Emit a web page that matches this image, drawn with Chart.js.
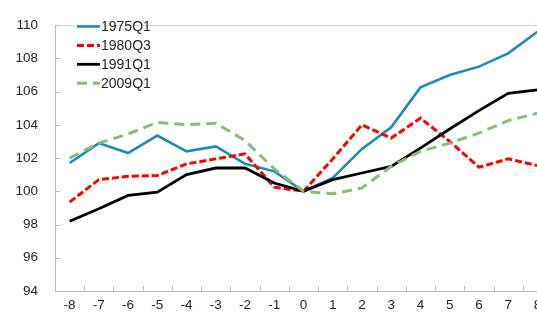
<!DOCTYPE html>
<html>
<head>
<meta charset="utf-8">
<script src="https://cdn.jsdelivr.net/npm/chart.js@4"></script>
<style>
  html, body { margin: 0; padding: 0; overflow: hidden; background: #fff; }
  #wrap { width: 537px; height: 322px; overflow: hidden; }
</style>
</head>
<body>
<div id="wrap"><canvas id="chart" width="552" height="322"></canvas></div>
<script>
// quarters relative to the cycle reference point (0 = 100)
const quarters = ['-8', '-7', '-6', '-5', '-4', '-3', '-2', '-1', '0', '1', '2', '3', '4', '5', '6', '7', '8'];

const q1975 = [101.7, 102.9, 102.3, 103.35, 102.4, 102.7, 101.65, 101.2, 100.0, 100.8, 102.55, 103.85, 106.25, 107.0, 107.5, 108.3, 109.6];
const q1980 = [99.35, 100.7, 100.9, 100.95, 101.65, 101.95, 102.25, 100.25, 100.0, 101.95, 104.0, 103.2, 104.4, 103.0, 101.45, 101.95, 101.55];
const q1991 = [98.2, 98.95, 99.75, 99.95, 101.0, 101.4, 101.4, 100.5, 100.0, 100.7, 101.1, 101.5, 102.6, 103.75, 104.85, 105.9, 106.1];
const q2009 = [102.0, 102.9, 103.45, 104.15, 104.0, 104.1, 103.05, 101.35, 100.0, 99.85, 100.2, 101.5, 102.4, 102.9, 103.5, 104.25, 104.7];

const yTicks = { min: 94, max: 110, step: 2 };

const axisGrey = '#bfbfbf';
const textColor = '#262626';
const fontFamily = '"Liberation Sans", Arial, sans-serif';

// inner tick marks, top frame line and the legend box inside the plot
const framePlugin = {
  id: 'frame',
  afterDraw(chart) {
    const { ctx, chartArea: a, scales: { x, y } } = chart;
    ctx.save();

    ctx.strokeStyle = '#d9d9d9';
    ctx.lineWidth = 1;
    ctx.beginPath();
    ctx.moveTo(a.left, Math.round(a.top) + 0.5);
    ctx.lineTo(a.right, Math.round(a.top) + 0.5);
    ctx.stroke();

    ctx.strokeStyle = axisGrey;
    ctx.beginPath();
    y.ticks.forEach((t, i) => {
      const py = Math.round(y.getPixelForTick(i)) + 0.5;
      ctx.moveTo(a.left, py);
      ctx.lineTo(a.left + 5, py);
    });
    for (let i = 1; i < quarters.length; i++) {
      const px = Math.round((x.getPixelForValue(i - 1) + x.getPixelForValue(i)) / 2) + 0.5;
      ctx.moveTo(px, a.bottom);
      ctx.lineTo(px, a.bottom - 5);
    }
    ctx.stroke();

    // legend
    ctx.font = '14px ' + fontFamily;
    ctx.textBaseline = 'middle';
    ctx.fillStyle = textColor;
    chart.data.datasets.forEach((ds, i) => {
      const ly = 26.5 + i * 18.9;
      ctx.beginPath();
      ctx.strokeStyle = ds.borderColor;
      ctx.lineWidth = ds.borderWidth;
      ctx.setLineDash(ds.borderDash || []);
      ctx.moveTo(77, ly);
      ctx.lineTo(100, ly);
      ctx.stroke();
      ctx.setLineDash([]);
      ctx.fillText(ds.label, 101, ly + 1);
    });

    ctx.restore();
  }
};

new Chart(document.getElementById('chart'), {
  type: 'line',
  data: {
    labels: quarters,
    datasets: [
      { label: '1975Q1', data: q1975, borderColor: '#1a8bbf', borderWidth: 2.6, order: 3 },
      { label: '1980Q3', data: q1980, borderColor: '#ff0000', borderWidth: 3, borderDash: [7, 3], order: 2 },
      { label: '1991Q1', data: q1991, borderColor: '#000000', borderWidth: 2.8, order: 1 },
      { label: '2009Q1', data: q2009, borderColor: '#88bf78', borderWidth: 3, borderDash: [10, 6], order: 0 }
    ]
  },
  options: {
    responsive: false,
    animation: false,
    devicePixelRatio: 1,
    layout: { padding: { top: 15, right: 0, left: 0, bottom: 0 } },
    elements: {
      point: { radius: 0 },
      line: { tension: 0, fill: false, borderCapStyle: 'butt' }
    },
    plugins: {
      legend: { display: false },
      tooltip: { enabled: false }
    },
    scales: {
      x: {
        offset: true,
        grid: { display: true, drawOnChartArea: false, drawTicks: false },
        border: { color: axisGrey, width: 1 },
        ticks: { color: textColor, font: { family: fontFamily, size: 13.5 }, padding: 6, maxRotation: 0, autoSkip: false },
        afterFit: s => { s.height = 31; }
      },
      y: {
        min: yTicks.min,
        max: yTicks.max,
        grid: { display: true, drawOnChartArea: false, drawTicks: false },
        border: { color: axisGrey, width: 1 },
        ticks: { stepSize: yTicks.step, color: textColor, font: { family: fontFamily, size: 13.5 }, padding: 17 },
        afterFit: s => { s.width = 55; }
      }
    }
  },
  plugins: [framePlugin]
});
</script>
</body>
</html>
